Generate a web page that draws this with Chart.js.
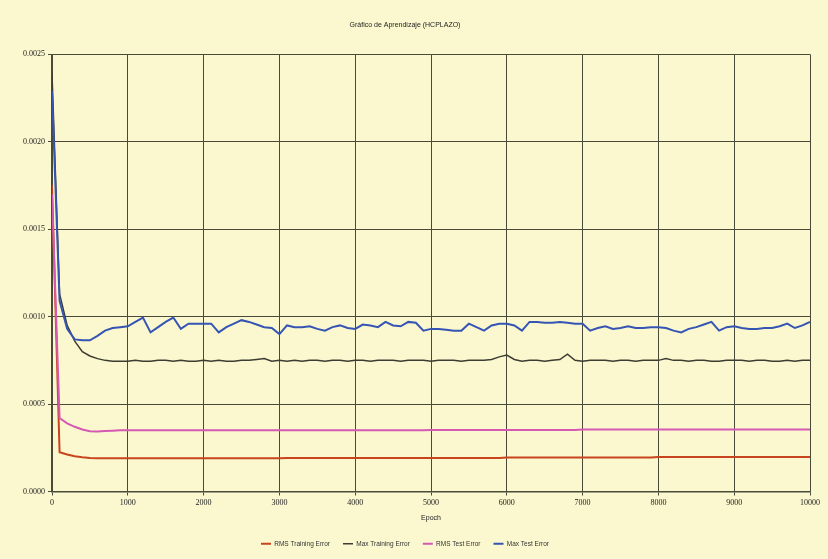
<!DOCTYPE html>
<html>
<head>
<meta charset="utf-8">
<script src="https://cdn.jsdelivr.net/npm/chart.js@4/dist/chart.umd.min.js"></script>
<style>
  html, body { margin:0; padding:0; background:#FBF8CF; }
  #wrap { width:828px; height:559px; position:relative; }
</style>
</head>
<body>
<div id="wrap"><canvas id="c" width="828" height="559"></canvas></div>
<script>
const chartTitle = "Gráfico de Aprendizaje (HCPLAZO)";
const xTitle = "Epoch";
const seriesNames = ["RMS Training Error", "Max Training Error", "RMS Test Error", "Max Test Error"];
const seriesColors = ["#C8441E", "#3C3C32", "#D558B4", "#3554B4"];

const epochs = [0,100,200,300,400,500,600,700,800,900,
1000,1100,1200,1300,1400,1500,1600,1700,1800,1900,
2000,2100,2200,2300,2400,2500,2600,2700,2800,2900,
3000,3100,3200,3300,3400,3500,3600,3700,3800,3900,
4000,4100,4200,4300,4400,4500,4600,4700,4800,4900,
5000,5100,5200,5300,5400,5500,5600,5700,5800,5900,
6000,6100,6200,6300,6400,6500,6600,6700,6800,6900,
7000,7100,7200,7300,7400,7500,7600,7700,7800,7900,
8000,8100,8200,8300,8400,8500,8600,8700,8800,8900,
9000,9100,9200,9300,9400,9500,9600,9700,9800,9900,10000];

const rmsTraining = [0.00175,0.000225,0.000212,0.000202,0.000196,0.000192,0.00019,0.00019,0.00019,0.00019,
0.00019,0.00019,0.00019,0.00019,0.00019,0.00019,0.00019,0.00019,0.00019,0.00019,
0.00019,0.00019,0.00019,0.00019,0.00019,0.00019,0.00019,0.00019,0.00019,0.00019,
0.00019,0.000192,0.000192,0.000192,0.000192,0.000192,0.000192,0.000192,0.000192,0.000192,
0.000192,0.000192,0.000192,0.000192,0.000192,0.000192,0.000192,0.000192,0.000192,0.000192,
0.000192,0.000192,0.000192,0.000192,0.000192,0.000192,0.000192,0.000192,0.000192,0.000192,
0.000195,0.000195,0.000195,0.000195,0.000195,0.000195,0.000195,0.000195,0.000195,0.000195,
0.000195,0.000195,0.000195,0.000195,0.000195,0.000195,0.000195,0.000195,0.000195,0.000195,
0.000197,0.000197,0.000197,0.000197,0.000197,0.000197,0.000197,0.000197,0.000197,0.000197,
0.000197,0.000197,0.000197,0.000197,0.000197,0.000197,0.000197,0.000197,0.000197,0.000197,0.000197];

const maxTraining = [0.00239,0.00113,0.00095,0.00086,0.0008,0.000775,0.00076,0.00075,0.000745,0.000745,
0.000745,0.00075,0.000745,0.000745,0.00075,0.00075,0.000745,0.00075,0.000745,0.000745,
0.00075,0.000745,0.00075,0.000745,0.000745,0.00075,0.00075,0.000755,0.00076,0.000745,
0.00075,0.000745,0.00075,0.000745,0.00075,0.00075,0.000745,0.00075,0.00075,0.000745,
0.00075,0.00075,0.000745,0.00075,0.00075,0.00075,0.000745,0.00075,0.00075,0.00075,
0.000745,0.00075,0.00075,0.00075,0.000745,0.00075,0.00075,0.00075,0.000755,0.00077,
0.00078,0.000755,0.000745,0.00075,0.00075,0.000745,0.00075,0.000755,0.000785,0.00075,
0.000745,0.00075,0.00075,0.00075,0.000745,0.00075,0.00075,0.000745,0.00075,0.00075,
0.00075,0.00076,0.00075,0.00075,0.000745,0.00075,0.00075,0.000745,0.000745,0.00075,
0.00075,0.00075,0.000745,0.00075,0.00075,0.000745,0.000745,0.00075,0.000745,0.00075,0.00075];

const rmsTest = [0.0017,0.00042,0.00039,0.00037,0.000355,0.000345,0.000343,0.000346,0.000348,0.00035,
0.00035,0.00035,0.00035,0.00035,0.00035,0.00035,0.00035,0.00035,0.00035,0.00035,
0.00035,0.00035,0.00035,0.00035,0.00035,0.00035,0.00035,0.00035,0.00035,0.00035,
0.00035,0.00035,0.00035,0.00035,0.00035,0.00035,0.00035,0.00035,0.00035,0.00035,
0.00035,0.00035,0.00035,0.00035,0.00035,0.00035,0.00035,0.00035,0.00035,0.00035,
0.000352,0.000352,0.000352,0.000352,0.000352,0.000352,0.000352,0.000352,0.000352,0.000352,
0.000352,0.000352,0.000352,0.000352,0.000352,0.000352,0.000352,0.000352,0.000352,0.000352,
0.000355,0.000355,0.000355,0.000355,0.000355,0.000355,0.000355,0.000355,0.000355,0.000355,
0.000355,0.000355,0.000355,0.000355,0.000355,0.000355,0.000355,0.000355,0.000355,0.000355,
0.000355,0.000355,0.000355,0.000355,0.000355,0.000355,0.000355,0.000355,0.000355,0.000355,0.000355];

const maxTest = [0.00229,0.00109,0.00093,0.00087,0.000865,0.000865,0.00089,0.00092,0.000935,0.00094,
0.000945,0.00097,0.000995,0.00091,0.00094,0.00097,0.000995,0.00093,0.00096,0.00096,
0.00096,0.00096,0.00091,0.00094,0.00096,0.00098,0.00097,0.000955,0.00094,0.000935,
0.0009,0.00095,0.00094,0.00094,0.000945,0.00093,0.00092,0.00094,0.00095,0.000935,
0.00093,0.000955,0.00095,0.00094,0.00097,0.00095,0.000945,0.00097,0.000965,0.00092,
0.00093,0.00093,0.000925,0.00092,0.00092,0.00096,0.00094,0.00092,0.00095,0.00096,
0.00096,0.00095,0.00092,0.00097,0.00097,0.000965,0.000965,0.00097,0.000965,0.00096,
0.00096,0.00092,0.000935,0.000945,0.00093,0.000935,0.000945,0.000935,0.000935,0.00094,
0.00094,0.000935,0.00092,0.00091,0.00093,0.00094,0.000955,0.00097,0.00092,0.00094,
0.000945,0.000935,0.00093,0.00093,0.000935,0.000935,0.000945,0.00096,0.000935,0.00095,0.00097];

const yTicks = [0, 0.0005, 0.0010, 0.0015, 0.0020, 0.0025];
const xTicks = [0,1000,2000,3000,4000,5000,6000,7000,8000,9000,10000];

const allSeries = [rmsTraining, maxTraining, rmsTest, maxTest];
const widths = [2, 1.5, 2, 2];
const orders = [3, 2, 1, 0];

const datasets = allSeries.map((vals, i) => ({
  label: seriesNames[i],
  data: epochs.map((e, k) => ({x: e, y: vals[k]})),
  borderColor: seriesColors[i],
  backgroundColor: seriesColors[i],
  borderWidth: widths[i],
  pointRadius: 0,
  tension: 0,
  fill: false,
  order: orders[i]
}));

const gridCol = "#4A4A38";
const tickFont = {family: "'Liberation Serif', serif", size: 8};

new Chart(document.getElementById('c'), {
  type: 'line',
  data: { datasets },
  options: {
    responsive: false,
    animation: false,
    layout: { padding: { left: 0, right: 18, top: 0, bottom: 2 } },
    plugins: {
      title: {
        display: true, text: chartTitle, color: "#222",
        font: {family: "'Liberation Sans', sans-serif", size: 7, weight: 'normal'},
        padding: {top: 21, bottom: 25}
      },
      legend: {
        position: 'bottom',
        labels: {
          sort: (a, b) => a.datasetIndex - b.datasetIndex,
          usePointStyle: true, pointStyle: 'line', pointStyleWidth: 10,
          boxWidth: 10, boxHeight: 2,
          font: {family: "'Liberation Sans', sans-serif", size: 6.5},
          color: "#333", padding: 13
        }
      },
      tooltip: { enabled: false }
    },
    scales: {
      x: {
        type: 'linear', min: 0, max: 10000,
        afterBuildTicks: s => { s.ticks = xTicks.map(v => ({value: v})); },
        ticks: { font: tickFont, color: "#222", padding: 3, maxRotation: 0,
                 callback: v => String(v) },
        grid: { color: gridCol, lineWidth: 1, tickLength: 4, drawTicks: true },
        border: { color: gridCol, width: 1.5 },
        title: { display: true, text: xTitle, color: "#222",
                 font: {family: "'Liberation Sans', sans-serif", size: 7}, padding: {top: 3, bottom: 5} }
      },
      y: {
        min: 0, max: 0.0025,
        afterBuildTicks: s => { s.ticks = yTicks.map(v => ({value: v})); },
        afterFit: s => { s.width = 52; },
        ticks: { font: tickFont, color: "#222", padding: 3,
                 callback: v => Number(v).toFixed(4) },
        grid: { color: gridCol, lineWidth: 1, tickLength: 4, drawTicks: true },
        border: { color: gridCol, width: 1.5 }
      }
    }
  }
});
</script>
</body>
</html>
